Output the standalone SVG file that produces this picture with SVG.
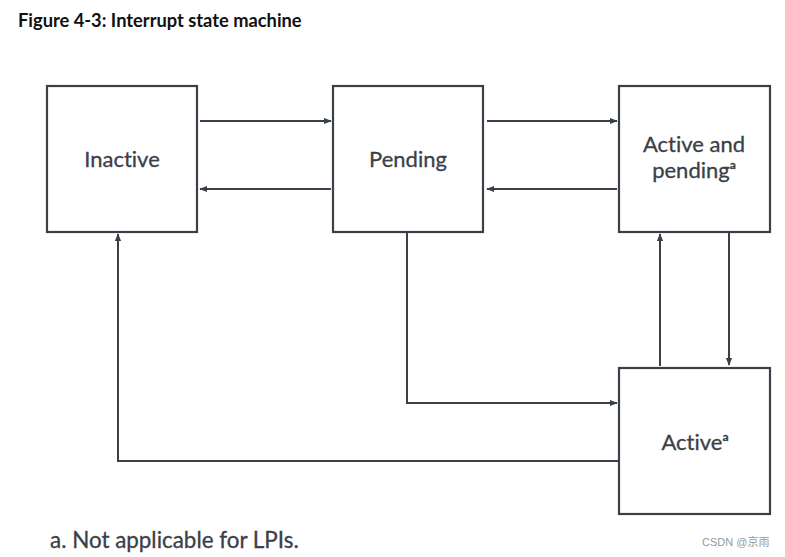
<svg xmlns="http://www.w3.org/2000/svg" width="785" height="557" viewBox="0 0 785 557">
<style>
text{font-variant-ligatures:none}
.box{fill:#fff;stroke:#3b4048;stroke-width:2.2}
.ln{fill:none;stroke:#3b4048;stroke-width:2;marker-end:url(#ah)}
.lbl{font-family:Lato,"Liberation Sans",sans-serif;font-size:22px;fill:#3b4048;text-anchor:middle;stroke:#3b4048;stroke-width:0.3}
.sup{font-size:12px;font-weight:bold}
</style>
<defs>
<marker id="ah" viewBox="0 0 10 10" refX="9" refY="5" markerWidth="4" markerHeight="4" orient="auto" markerUnits="strokeWidth">
<path d="M0,1 L10,5 L0,9 Z" fill="#3b4048"/>
</marker>
</defs>
<rect width="785" height="557" fill="#fff"/>
<text x="18" y="27" font-family="Lato,'Liberation Sans',sans-serif" font-weight="bold" font-size="18.3" fill="#111">Figure 4-3: Interrupt state machine</text>
<g id="connectors">
<path class="ln" d="M200,121 H331"/>
<path class="ln" d="M331,189 H200"/>
<path class="ln" d="M487,121 H617"/>
<path class="ln" d="M617,189 H487"/>
<path class="ln" d="M660,366 V234"/>
<path class="ln" d="M729,233 V365"/>
<path class="ln" d="M407,233 V403 H617"/>
<path class="ln" d="M619,461 H118 V234"/>
</g>
<g id="inactive">
<rect class="box" x="47" y="86" width="150" height="146"/>
<text class="lbl" x="122" y="167">Inactive</text>
</g>
<g id="pending">
<rect class="box" x="333" y="86" width="150" height="146"/>
<text class="lbl" x="408" y="167">Pending</text>
</g>
<g id="active-and-pending">
<rect class="box" x="619" y="86" width="151" height="146"/>
<text class="lbl" x="694" y="152">Active and</text>
<text class="lbl" x="694" y="178">pending<tspan class="sup" dy="-9">a</tspan></text>
</g>
<g id="active">
<rect class="box" x="619" y="368" width="151" height="146"/>
<text class="lbl" x="695" y="450">Active<tspan class="sup" dy="-9">a</tspan></text>
</g>
<text x="50" y="548" font-family="Lato,'Liberation Sans',sans-serif" font-size="22.4" fill="#3b4048" stroke="#3b4048" stroke-width="0.3">a. Not applicable for LPIs.</text>
<text x="702" y="546" font-family="'Liberation Sans','Noto Sans CJK SC',sans-serif" font-size="11" fill="#999">CSDN @京雨</text>
</svg>
